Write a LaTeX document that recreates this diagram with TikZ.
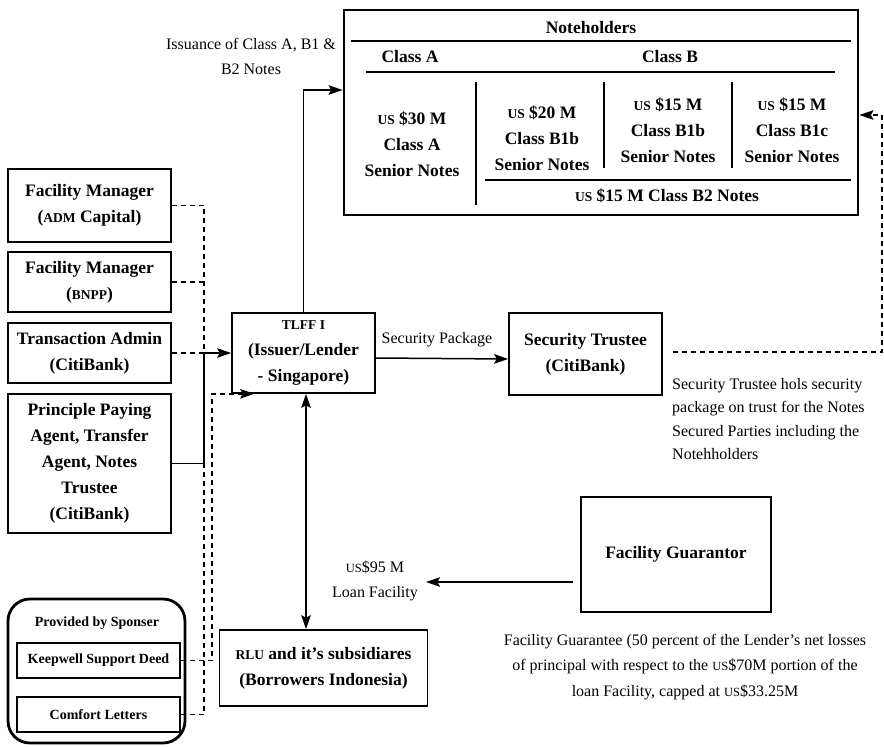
\documentclass[tikz,border=0pt]{standalone}
\usepackage{fontspec}
\setmainfont{Liberation Serif}
\usetikzlibrary{arrows.meta,calc}

% text sizes
\newcommand\bfnode{\fontsize{17.5}{26}\selectfont\bfseries}
\newcommand\smallbold{\fontsize{14}{18}\selectfont\bfseries}
\newcommand\capfont{\fontsize{16}{24.5}\selectfont}
% small-capital look for abbreviations
\newcommand\scb[1]{{\fontsize{13.5}{26}\selectfont #1}}
\newcommand\scr[1]{{\fontsize{12.5}{24}\selectfont #1}}

\tikzset{
  box/.style={draw, line width=1.6pt, align=center, inner sep=0pt, font=\bfnode},
  txtb/.style={align=center, inner sep=0pt, font=\bfnode},
  captext/.style={align=center, inner sep=0pt, font=\capfont},
  rule/.style={line width=1.4pt},
  link/.style={line width=1.5pt},
  dashlink/.style={line width=1.5pt, dash pattern=on 5pt off 4pt},
}

\begin{document}
\begin{tikzpicture}[x=1pt, y=-1pt, >={Stealth[length=14pt, width=9.5pt, inset=2.5pt]}]
\useasboundingbox (0,0) rectangle (884,747);
\fill[white] (0,0) rectangle (884,747);

% Noteholders block
\node[box, line width=2.8pt, minimum width=514pt, minimum height=205pt] (nh) at (601,112.5) {};
\node[txtb] (nhtitle) at (591,28) {Noteholders};
\node[txtb] (clA) at (410,57) {Class A};
\node[txtb] (clB) at (670,57) {Class B};
\draw[rule] (351,41) -- (851,41);
\draw[rule] (366,72) -- (835,72);
\draw[rule] (476,82) -- (476,205);
\draw[rule] (604,82) -- (604,168);
\draw[rule] (732,82) -- (732,168);
\draw[rule] (485,180) -- (851,180);
\node[txtb] (n30) at (412,144) {\scb{US} \$30 M\\Class A\\Senior Notes};
\node[txtb] (n20) at (542,138) {\scb{US} \$20 M\\Class B1b\\Senior Notes};
\node[txtb] (n15b) at (668,130) {\scb{US} \$15 M\\Class B1b\\Senior Notes};
\node[txtb] (n15c) at (792,130) {\scb{US} \$15 M\\Class B1c\\Senior Notes};
\node[txtb] (nb2) at (667,196) {\scb{US} \$15 M Class B2 Notes};

% service providers
\node[box, minimum width=163pt, minimum height=73pt] (fmadm) at (89.5,205.5) {Facility Manager\\(\scb{ADM} Capital)};
\node[box, minimum width=163pt, minimum height=60pt] (fmbnpp) at (89.5,282) {Facility Manager\\(\scb{BNPP})};
\node[box, minimum width=163pt, minimum height=60pt] (ta) at (89.5,353) {Transaction Admin\\(CitiBank)};
\node[box, minimum width=163pt, minimum height=139pt] (ppa) at (89.5,463.5) {Principle Paying\\Agent, Transfer\\Agent, Notes\\Trustee\\(CitiBank)};

% issuer, trustee, guarantor, borrowers
\node[box, minimum width=143pt, minimum height=80pt] (tlff) at (303.5,353) {\scb{TLFF I}\\(Issuer/Lender\\- Singapore)};
\node[box, minimum width=153pt, minimum height=82pt] (st) at (585.5,354) {Security Trustee\\(CitiBank)};
\node[box, minimum width=190pt, minimum height=115pt] (fg) at (676,554.5) {Facility Guarantor};
\node[box, minimum width=208pt, minimum height=76pt] (rlu) at (323.5,668) {\scb{RLU} and it’s subsidiares\\(Borrowers Indonesia)};

% sponsor support
\node[draw, line width=2.8pt, rounded corners=22pt, minimum width=177pt, minimum height=144pt] (spons) at (96.5,671) {};
\node[txtb, font=\smallbold] (provided) at (97,623) {Provided by Sponser};
\node[box, font=\smallbold, line width=1.4pt, minimum width=163pt, minimum height=35pt] (keep) at (98.5,660.5) {Keepwell Support Deed};
\node[box, font=\smallbold, line width=1.4pt, minimum width=163pt, minimum height=35pt] (comfort) at (98.5,714.5) {Comfort Letters};

% captions
\node[captext] (issue) at (251,56.5) {Issuance of Class A, B1 \&\\B2 Notes};
\node[captext] (secpkg) at (437,340) {Security Package};
\node[captext, align=left, anchor=north west, font=\fontsize{16}{23.5}\selectfont] (stcap) at (672,378) {Security Trustee hols security\\package on trust for the Notes\\Secured Parties including the\\Notehholders};
\node[captext] (loanlbl) at (375,581) {\scr{US}\$95 M\\Loan Facility};
\node[captext, font=\fontsize{16}{25.5}\selectfont] (fgcap) at (685,667) {Facility Guarantee (50 percent of the Lender’s net losses\\of principal with respect to the \scr{US}\$70M portion of the\\loan Facility, capped at \scr{US}\$33.25M};

% routing coordinates
\coordinate (jx) at (204,0);
\coordinate (kx) at (212,0);
\coordinate (vx) at (306,0);
\coordinate (topy) at (0,90);
\coordinate (rx) at (882,0);
\coordinate (nhin) at (0,115);
\coordinate (loanend) at (426,582);

% connectors into the issuer
\draw[dashlink] (fmadm.east) -| (jx |- ta.east);
\draw[dashlink] (fmbnpp.east) -- (jx |- fmbnpp.east);
\draw[dashlink] (ta.east) -- (jx |- ta.east);
\draw[link, ->] (ppa.east) -| (jx |- ta.east) -- (tlff.west);
\draw[dashlink] (comfort.east) -| (jx |- ppa.east);
\draw[dashlink, ->] (keep.east) -| (kx |- tlff.south) -- ([xshift=23pt]tlff.south west);

% issuer links
\draw[link, ->] (tlff.north) |- (nh.west |- topy);
\draw[link, ->] ([yshift=-5pt]tlff.east) -- ([yshift=-5pt]st.west);
\draw[link, <->] (vx |- tlff.south) -- (vx |- rlu.north);
\draw[dashlink, ->] ([xshift=10pt, yshift=2pt]st.east) -| (rx |- nhin) -- (nh.east |- nhin);
\draw[link, ->] ([xshift=-7pt]fg.west |- loanend) -- (loanend);
\end{tikzpicture}
\end{document}
